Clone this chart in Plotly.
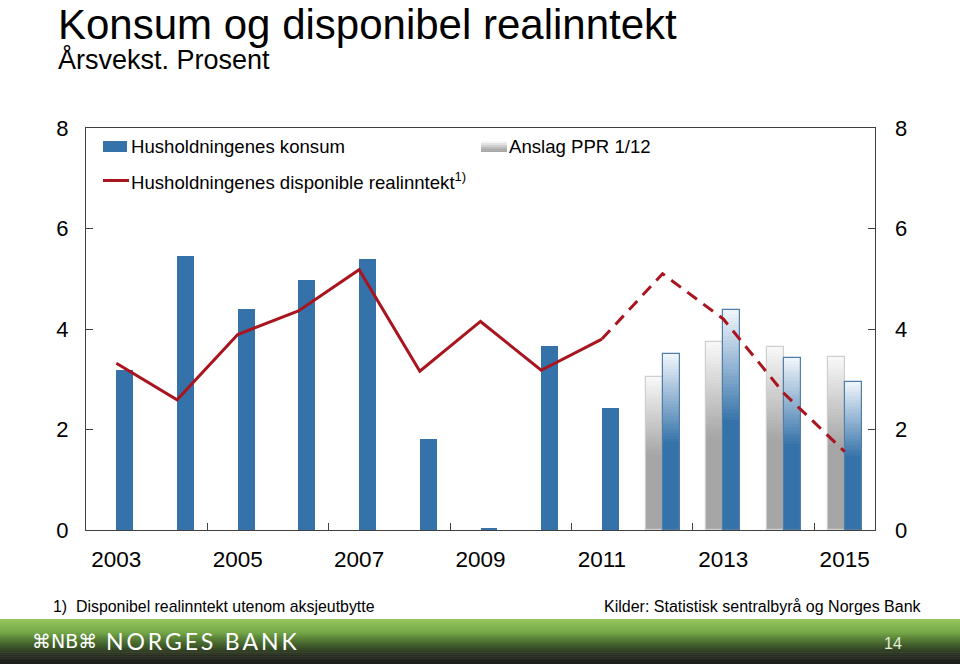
import plotly.graph_objects as go

# ---------------- data ----------------
years = list(range(2003, 2016))
hist_years = list(range(2003, 2012))
proj_years = [2012, 2013, 2014, 2015]

konsum_hist = [3.18, 5.45, 4.40, 4.97, 5.40, 1.81, 0.04, 3.66, 2.43]
konsum_proj = [3.50, 4.37, 3.42, 2.94]
ppr_proj = [3.04, 3.74, 3.65, 3.44]
income = [3.32, 2.59, 3.89, 4.36, 5.18, 3.16, 4.15, 3.18, 3.80, 5.10, 4.20, 2.72, 1.56]

xtick_labels = ["2003", "2005", "2007", "2009", "2011", "2013", "2015"]
xtick_vals = [int(s) for s in xtick_labels]
ytick_vals = [0, 2, 4, 6, 8]

# ---------------- style ----------------
BLUE = (53, 114, 169)
BLUE_TOP = (238, 244, 250)
GRAY = (166, 166, 166)
GRAY_TOP = (247, 247, 247)
RED = "#A8151F"
FRAME = "#404040"
FONT = "Liberation Sans, Arial, sans-serif"
BW = 0.28  # bar width in category units

W, H = 960, 664
L, R, T, B = 86, 875, 128, 530


def px(x):
    return (x - L) / (R - L)


def py(y):
    return (B - y) / (B - T)


def mix(c1, c2, t):
    return "rgb(%d,%d,%d)" % tuple(round(a + (b - a) * t) for a, b in zip(c1, c2))


fig = go.Figure()

# historical consumption bars
fig.add_trace(go.Bar(x=hist_years, y=konsum_hist, width=BW, offset=0,
                     marker=dict(color=mix(BLUE, BLUE, 0), line=dict(width=0)),
                     showlegend=False, hoverinfo="skip"))

# gradient projection bars (layered from light/tall to dark/short)
K = 30
for i in range(K + 1):
    f = 1 - 0.5 * i / K
    t = i / K
    fig.add_trace(go.Bar(x=proj_years, y=[v * f for v in ppr_proj], width=BW, offset=-BW,
                         marker=dict(color=mix(GRAY_TOP, GRAY, t), line=dict(width=0)),
                         showlegend=False, hoverinfo="skip"))
    fig.add_trace(go.Bar(x=proj_years, y=[v * f for v in konsum_proj], width=BW, offset=0,
                         marker=dict(color=mix(BLUE_TOP, BLUE, t), line=dict(width=0)),
                         showlegend=False, hoverinfo="skip"))
# outlines
fig.add_trace(go.Bar(x=proj_years, y=ppr_proj, width=BW, offset=-BW,
                     marker=dict(color="rgba(0,0,0,0)", line=dict(width=1.2, color="#cfcfcf")),
                     showlegend=False, hoverinfo="skip"))
fig.add_trace(go.Bar(x=proj_years, y=konsum_proj, width=BW, offset=0,
                     marker=dict(color="rgba(0,0,0,0)", line=dict(width=1.2, color="#4f7ea8")),
                     showlegend=False, hoverinfo="skip"))

# income line: solid history, dashed projection
n_hist = len(hist_years)
fig.add_trace(go.Scatter(x=years[:n_hist], y=income[:n_hist], mode="lines",
                         line=dict(color=RED, width=3), showlegend=False, hoverinfo="skip"))
fig.add_trace(go.Scatter(x=years[n_hist - 1:], y=income[n_hist - 1:], mode="lines",
                         line=dict(color=RED, width=3, dash="12px,8px"), showlegend=False,
                         hoverinfo="skip", xaxis="x2"))

fig.update_layout(
    width=W, height=H,
    margin=dict(l=L, r=W - R, t=T, b=H - B),
    paper_bgcolor="white", plot_bgcolor="white",
    barmode="overlay", bargap=0,
    font=dict(family=FONT, color="black"),
    xaxis=dict(range=[2002.5, 2015.5], tickvals=xtick_vals, ticktext=xtick_labels,
               ticks="", showgrid=False, zeroline=False, showline=True, mirror=True,
               linecolor=FRAME, linewidth=1, tickfont=dict(size=22.5, family=FONT),
               ticklabelstandoff=9),
    xaxis2=dict(range=[2002.5, 2015.5], overlaying="x", anchor="y", side="bottom",
                tickvals=[v + 1.5 for v in xtick_vals[:-1]], ticks="inside", ticklen=7,
                tickcolor=FRAME, showticklabels=False, showgrid=False, zeroline=False,
                showline=False),
    yaxis=dict(range=[0, 8], tickvals=ytick_vals, ticks="inside", ticklen=7,
               tickcolor=FRAME, showgrid=False, zeroline=False, showline=True,
               mirror="ticks", linecolor=FRAME, linewidth=1,
               tickfont=dict(size=22, family=FONT), ticklabelstandoff=12),
    yaxis2=dict(range=[0, 8], tickvals=ytick_vals, overlaying="y", side="right",
                anchor="x", ticks="", showgrid=False, zeroline=False, showline=False,
                tickfont=dict(size=22, family=FONT), ticklabelstandoff=19),
)
# invisible helper so the right-hand label axis is drawn
fig.add_trace(go.Scatter(x=[2003], y=[0], yaxis="y2", mode="markers",
                         marker=dict(opacity=0), showlegend=False, hoverinfo="skip"))

shapes = []
annotations = []

# ---- legend ----
legend_font = dict(family=FONT, size=18.6, color="black")
shapes.append(dict(type="rect", xref="paper", yref="paper",
                   x0=px(103), x1=px(127), y0=py(152), y1=py(141),
                   fillcolor=mix(BLUE, BLUE, 0), line=dict(width=0)))
annotations.append(dict(text="Husholdningenes konsum", xref="paper", yref="paper",
                        x=px(129), y=py(147), xanchor="left", yanchor="middle",
                        showarrow=False, font=legend_font))
# gray gradient legend swatch
nstrip = 6
for i in range(nstrip):
    y0 = 141 + i * 11 / nstrip
    y1 = 141 + (i + 1) * 11 / nstrip
    shapes.append(dict(type="rect", xref="paper", yref="paper",
                       x0=px(481), x1=px(507), y0=py(y1), y1=py(y0),
                       fillcolor=mix(GRAY_TOP, GRAY, min(1, i / (nstrip - 2))),
                       line=dict(width=0)))
annotations.append(dict(text="Anslag PPR 1/12", xref="paper", yref="paper",
                        x=px(507), y=py(147), xanchor="left", yanchor="middle",
                        showarrow=False, font=legend_font))
shapes.append(dict(type="line", xref="paper", yref="paper",
                   x0=px(103), x1=px(129), y0=py(180.5), y1=py(180.5),
                   line=dict(color=RED, width=3)))
annotations.append(dict(text="Husholdningenes disponible realinntekt<sup>1)</sup>",
                        xref="paper", yref="paper",
                        x=px(129), y=py(181), xanchor="left", yanchor="middle",
                        showarrow=False, font=legend_font))

# ---- titles ----
annotations.append(dict(text="Konsum og disponibel realinntekt", xref="paper", yref="paper",
                        x=px(57), y=py(24.3), xanchor="left", yanchor="middle", borderpad=0,
                        showarrow=False, font=dict(family=FONT, size=42, color="black")))
annotations.append(dict(text="Årsvekst. Prosent", xref="paper", yref="paper",
                        x=px(56), y=py(59), xanchor="left", yanchor="middle",
                        showarrow=False, font=dict(family=FONT, size=27, color="black")))

# ---- footnotes ----
annotations.append(dict(text="1)  Disponibel realinntekt utenom aksjeutbytte", xref="paper",
                        yref="paper", x=px(51), y=py(606), xanchor="left", yanchor="middle",
                        showarrow=False, font=dict(family=FONT, size=15.9, color="black")))
annotations.append(dict(text="Kilder: Statistisk sentralbyrå og Norges Bank", xref="paper",
                        yref="paper", x=px(924), y=py(606), xanchor="right", yanchor="middle",
                        showarrow=False, font=dict(family=FONT, size=16, color="black")))

# ---- footer band ----
stops = [(0.0, (150, 199, 96)), (0.3, (116, 168, 72)), (0.55, (70, 100, 45)),
         (0.8, (38, 44, 30)), (1.0, (28, 28, 28))]


def band_color(t):
    for (t0, c0), (t1, c1) in zip(stops[:-1], stops[1:]):
        if t <= t1:
            return mix(c0, c1, (t - t0) / (t1 - t0))
    return mix(stops[-1][1], stops[-1][1], 0)


top, bot = 619, 664
ns = 23
for i in range(ns):
    y0 = top + (bot - top) * i / ns
    y1 = top + (bot - top) * (i + 1) / ns + 0.6
    shapes.append(dict(type="rect", xref="paper", yref="paper", layer="below",
                       x0=px(-2), x1=px(962), y0=py(y1), y1=py(y0),
                       fillcolor=band_color((i + 0.5) / ns), line=dict(width=0)))
annotations.append(dict(text="⌘NB⌘", xref="paper", yref="paper", x=px(30), y=py(641),
                        xanchor="left", yanchor="middle", showarrow=False,
                        font=dict(family="DejaVu Sans", size=19, color="white")))
annotations.append(dict(text="\u2009".join("NORGES") + "\u2002" + "\u2009".join("BANK"),
                        xref="paper", yref="paper", x=px(104), y=py(641),
                        xanchor="left", yanchor="middle", showarrow=False,
                        font=dict(family="Lato", size=23, color="white")))
annotations.append(dict(text="14", xref="paper", yref="paper", x=px(893), y=py(643),
                        xanchor="center", yanchor="middle", showarrow=False,
                        font=dict(family=FONT, size=16, color="#e4eed8")))

fig.update_layout(shapes=shapes, annotations=annotations)
fig.write_html("out.html", config={"displayModeBar": False},
               post_script="document.body.style.margin='0';document.body.style.overflow='hidden';")
